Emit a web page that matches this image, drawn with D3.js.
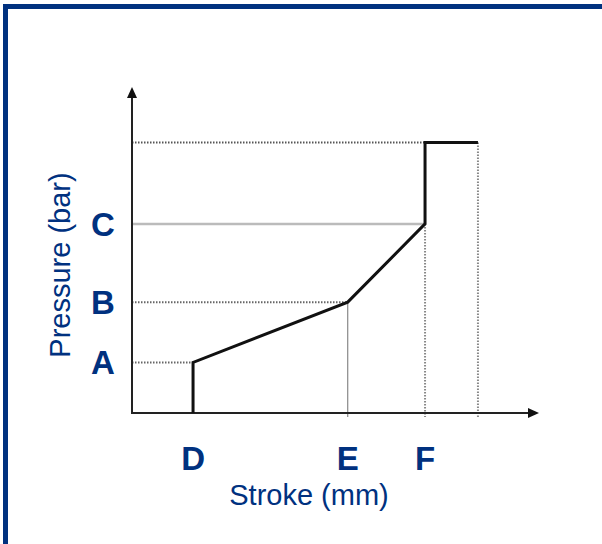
<!DOCTYPE html>
<html>
<head>
<meta charset="utf-8">
<script src="https://cdn.jsdelivr.net/npm/d3@7"></script>
<style>
  html, body { margin: 0; padding: 0; background: #fff; }
  svg { display: block; }
</style>
</head>
<body>
<svg id="chart" width="602" height="544"></svg>
<script>
// stroke positions (arbitrary units) for the marked points
const strokeTicks = ["D", "E", "F"];
const strokeTickValues = [1.5, 5.3, 7.2];
const pressureTicks = ["A", "B", "C"];
const pressureTickValues = [1.55, 3.4, 5.8];

// pressure curve
const curveStroke = [1.5, 1.5, 5.3, 7.2, 7.2, 8.5];
const curvePressure = [0, 1.55, 3.4, 5.8, 8.3, 8.3];

const navy = "#00317f";

const svg = d3.select("#chart");
const width = +svg.attr("width");
const height = +svg.attr("height");

// frame (top + left edges only)
svg.append("rect").attr("x", 3).attr("y", 4).attr("width", width - 3).attr("height", 5).attr("fill", navy);
svg.append("rect").attr("x", 3).attr("y", 4).attr("width", 5).attr("height", height - 4).attr("fill", navy);

const x = d3.scaleLinear().domain([0, 10]).range([132, 539]);
const y = d3.scaleLinear().domain([0, 10]).range([413, 87]);

const g = svg.append("g");

const topP = curvePressure[4];
const endS = curveStroke[5];

// A dotted
g.append("line")
    .attr("x1", x(0)).attr("x2", x(strokeTickValues[0]))
    .attr("y1", y(pressureTickValues[0])).attr("y2", y(pressureTickValues[0]))
    .attr("stroke", "#666").attr("stroke-width", 2).attr("stroke-dasharray", "1.5,1.5");
// B dotted
g.append("line")
    .attr("x1", x(0)).attr("x2", x(strokeTickValues[1]))
    .attr("y1", y(pressureTickValues[1])).attr("y2", y(pressureTickValues[1]))
    .attr("stroke", "#666").attr("stroke-width", 2).attr("stroke-dasharray", "1.5,1.5");
// C solid light gray
g.append("line")
    .attr("x1", x(0)).attr("x2", x(strokeTickValues[2]))
    .attr("y1", y(pressureTickValues[2])).attr("y2", y(pressureTickValues[2]))
    .attr("stroke", "#bbb").attr("stroke-width", 2.5);
// top dotted
g.append("line")
    .attr("x1", x(0)).attr("x2", x(strokeTickValues[2]))
    .attr("y1", y(topP)).attr("y2", y(topP))
    .attr("stroke", "#555").attr("stroke-width", 2).attr("stroke-dasharray", "1.5,1.5");
// E vertical thin solid
g.append("line")
    .attr("x1", x(strokeTickValues[1])).attr("x2", x(strokeTickValues[1]))
    .attr("y1", y(pressureTickValues[1])).attr("y2", y(0) + 4)
    .attr("stroke", "#888").attr("stroke-width", 1.2);
// F vertical dotted
g.append("line")
    .attr("x1", x(strokeTickValues[2])).attr("x2", x(strokeTickValues[2]))
    .attr("y1", y(pressureTickValues[2])).attr("y2", y(0) + 4)
    .attr("stroke", "#888").attr("stroke-width", 2).attr("stroke-dasharray", "1.5,1.5");
// end vertical dotted
g.append("line")
    .attr("x1", x(endS)).attr("x2", x(endS))
    .attr("y1", y(topP)).attr("y2", y(0) + 4)
    .attr("stroke", "#888").attr("stroke-width", 2).attr("stroke-dasharray", "1.5,1.5");

// axes
g.append("line").attr("x1", x(0)).attr("x2", x(0)).attr("y1", y(0) + 1).attr("y2", y(10) + 8)
    .attr("stroke", "#222").attr("stroke-width", 2);
g.append("line").attr("x1", x(0) - 1).attr("x2", x(10) - 8).attr("y1", y(0)).attr("y2", y(0))
    .attr("stroke", "#222").attr("stroke-width", 2);
g.append("path")
    .attr("d", `M${x(0)},${y(10)} L${x(0) - 5},${y(10) + 11} L${x(0) + 5},${y(10) + 11} Z`)
    .attr("fill", "#111");
g.append("path")
    .attr("d", `M${x(10)},${y(0)} L${x(10) - 11},${y(0) - 5} L${x(10) - 11},${y(0) + 5} Z`)
    .attr("fill", "#111");

// pressure curve
const pts = curveStroke.map((s, i) => [s, curvePressure[i]]);
g.append("path")
    .datum(pts)
    .attr("d", d3.line().x(d => x(d[0])).y(d => y(d[1])))
    .attr("fill", "none")
    .attr("stroke", "#111")
    .attr("stroke-width", 3)
    .attr("stroke-linejoin", "miter");

// tick letters
g.selectAll(".xl").data(strokeTicks).enter().append("text")
    .attr("class", "xl")
    .attr("x", (d, i) => x(strokeTickValues[i]))
    .attr("y", 470)
    .attr("text-anchor", "middle")
    .attr("font-family", "Liberation Sans, Arial, sans-serif")
    .attr("font-weight", "bold")
    .attr("font-size", 33)
    .attr("fill", navy)
    .text(d => d);

g.selectAll(".yl").data(pressureTicks).enter().append("text")
    .attr("class", "yl")
    .attr("x", 103)
    .attr("y", (d, i) => y(pressureTickValues[i]) + 12)
    .attr("text-anchor", "middle")
    .attr("font-family", "Liberation Sans, Arial, sans-serif")
    .attr("font-weight", "bold")
    .attr("font-size", 33)
    .attr("fill", navy)
    .text(d => d);

// axis titles
svg.append("text")
    .attr("x", 309).attr("y", 505)
    .attr("text-anchor", "middle")
    .attr("font-family", "Liberation Sans, Arial, sans-serif")
    .attr("font-size", 29)
    .attr("fill", navy)
    .text("Stroke (mm)");

svg.append("text")
    .attr("transform", "translate(70,265) rotate(-90)")
    .attr("text-anchor", "middle")
    .attr("font-family", "Liberation Sans, Arial, sans-serif")
    .attr("font-size", 29)
    .attr("fill", navy)
    .text("Pressure (bar)");
</script>
</body>
</html>
